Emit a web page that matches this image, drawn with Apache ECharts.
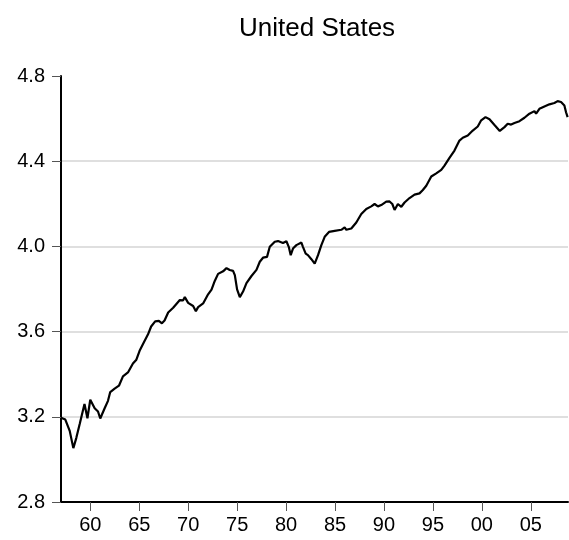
<!DOCTYPE html>
<html>
<head>
<meta charset="utf-8">
<script src="https://cdn.jsdelivr.net/npm/echarts@6.0.0/dist/echarts.min.js"></script>
<style>
  html, body { margin: 0; padding: 0; background: #fff; }
  #main { width: 569px; height: 540px; }
</style>
</head>
<body>
<div id="main"></div>
<script>
// time in decimal years
var years = [
  1957.00, 1957.10, 1957.44, 1957.64, 1957.89, 1958.26, 1958.56, 1958.91, 1959.40, 1959.70,
  1959.86, 1959.99, 1960.44, 1960.78, 1961.01, 1961.21, 1961.46, 1961.80, 1962.03, 1962.48,
  1962.92, 1963.33, 1963.84, 1964.35, 1964.70, 1965.03, 1965.47, 1965.88, 1966.21, 1966.62,
  1967.00, 1967.31, 1967.58, 1967.95, 1968.46, 1969.14, 1969.48, 1969.65, 1969.99, 1970.50,
  1970.78, 1971.01, 1971.52, 1972.03, 1972.38, 1972.71, 1973.05, 1973.56, 1973.91, 1974.24,
  1974.58, 1974.76, 1974.99, 1975.27, 1975.60, 1975.95, 1976.46, 1976.97, 1977.31, 1977.64,
  1978.05, 1978.33, 1978.84, 1979.17, 1979.68, 1980.03, 1980.27, 1980.47, 1980.70, 1981.05,
  1981.21, 1981.56, 1981.72, 1982.00, 1982.23, 1982.58, 1982.92, 1983.26, 1983.60, 1983.94,
  1984.38, 1984.96, 1985.64, 1985.98, 1986.15, 1986.66, 1987.17, 1987.68, 1988.19, 1988.70,
  1989.04, 1989.38, 1989.72, 1990.23, 1990.57, 1990.85, 1991.08, 1991.42, 1991.77, 1992.10,
  1992.61, 1993.12, 1993.63, 1993.97, 1994.32, 1994.83, 1995.34, 1995.85, 1996.18, 1996.69,
  1997.20, 1997.71, 1998.05, 1998.56, 1999.07, 1999.58, 1999.93, 2000.37, 2000.78, 2001.29,
  2001.83, 2002.31, 2002.64, 2002.99, 2003.33, 2003.84, 2004.35, 2004.86, 2005.37, 2005.54,
  2005.88, 2006.39, 2006.90, 2007.41, 2007.74, 2008.09, 2008.43, 2008.60, 2008.76
];
var values = [
  3.196, 3.194, 3.187, 3.181, 3.134, 3.053, 3.100, 3.166, 3.260, 3.193,
  3.195, 3.280, 3.240, 3.225, 3.192, 3.197, 3.240, 3.275, 3.316, 3.332,
  3.346, 3.390, 3.408, 3.450, 3.468, 3.510, 3.550, 3.586, 3.624, 3.648,
  3.650, 3.639, 3.652, 3.690, 3.712, 3.748, 3.747, 3.762, 3.735, 3.720,
  3.696, 3.715, 3.732, 3.775, 3.797, 3.838, 3.871, 3.883, 3.898, 3.889,
  3.885, 3.865, 3.798, 3.762, 3.788, 3.828, 3.861, 3.890, 3.928, 3.947,
  3.951, 3.998, 4.022, 4.025, 4.016, 4.024, 3.998, 3.959, 3.990, 4.006,
  4.014, 4.018, 3.998, 3.966, 3.959, 3.940, 3.919, 3.959, 4.006, 4.045,
  4.068, 4.073, 4.078, 4.089, 4.078, 4.084, 4.112, 4.152, 4.176, 4.188,
  4.199, 4.188, 4.194, 4.210, 4.211, 4.199, 4.171, 4.199, 4.186, 4.206,
  4.227, 4.243, 4.249, 4.265, 4.285, 4.328, 4.343, 4.359, 4.379, 4.416,
  4.450, 4.497, 4.510, 4.521, 4.544, 4.563, 4.592, 4.607, 4.597, 4.570,
  4.542, 4.560, 4.576, 4.572, 4.579, 4.588, 4.604, 4.623, 4.635, 4.623,
  4.646, 4.657, 4.667, 4.673, 4.682, 4.678, 4.662, 4.630, 4.607
];
var xTicks = [1960, 1965, 1970, 1975, 1980, 1985, 1990, 1995, 2000, 2005];
var yTicks = [2.8, 3.2, 3.6, 4.0, 4.4, 4.8];

var seriesData = years.map(function (y, i) { return [y, values[i]]; });

var chart = echarts.init(document.getElementById('main'));
chart.setOption({
  animation: false,
  backgroundColor: '#ffffff',
  title: {
    text: 'United States',
    left: 234,
    top: 11,
    textStyle: { fontFamily: 'Liberation Sans, Arial', fontWeight: 'normal', fontSize: 26, color: '#000' }
  },
  grid: { left: 61, right: 1, top: 76, bottom: 38, containLabel: false },
  xAxis: {
    type: 'value',
    min: 1957,
    max: 2008.8,
    axisLine: { lineStyle: { color: '#000', width: 2 } },
    axisTick: { customValues: xTicks, length: 9, lineStyle: { color: '#555', width: 1 } },
    axisLabel: {
      customValues: xTicks,
      margin: 13,
      fontFamily: 'Liberation Sans, Arial',
      fontSize: 20,
      color: '#000',
      formatter: function (v) { var s = String(Math.round(v) % 100); return s.length < 2 ? '0' + s : s; }
    },
    splitLine: { show: false }
  },
  yAxis: {
    type: 'value',
    min: yTicks[0],
    max: yTicks[yTicks.length - 1],
    interval: 0.4,
    axisLine: { show: true, lineStyle: { color: '#000', width: 2 } },
    axisTick: { show: true, length: 9, lineStyle: { color: '#555', width: 1 } },
    axisLabel: {
      margin: 16,
      fontFamily: 'Liberation Sans, Arial',
      fontSize: 20,
      color: '#000',
      formatter: function (v) { return v.toFixed(1); }
    },
    splitLine: {
      show: true,
      lineStyle: { color: ['rgba(0,0,0,0)', '#d4d4d4', '#d4d4d4', '#d4d4d4', '#d4d4d4', 'rgba(0,0,0,0)'], width: 1.5 }
    }
  },
  series: [{
    type: 'line',
    data: seriesData,
    showSymbol: false,
    smooth: false,
    lineStyle: { color: '#000', width: 2.2 }
  }]
});
</script>
</body>
</html>
